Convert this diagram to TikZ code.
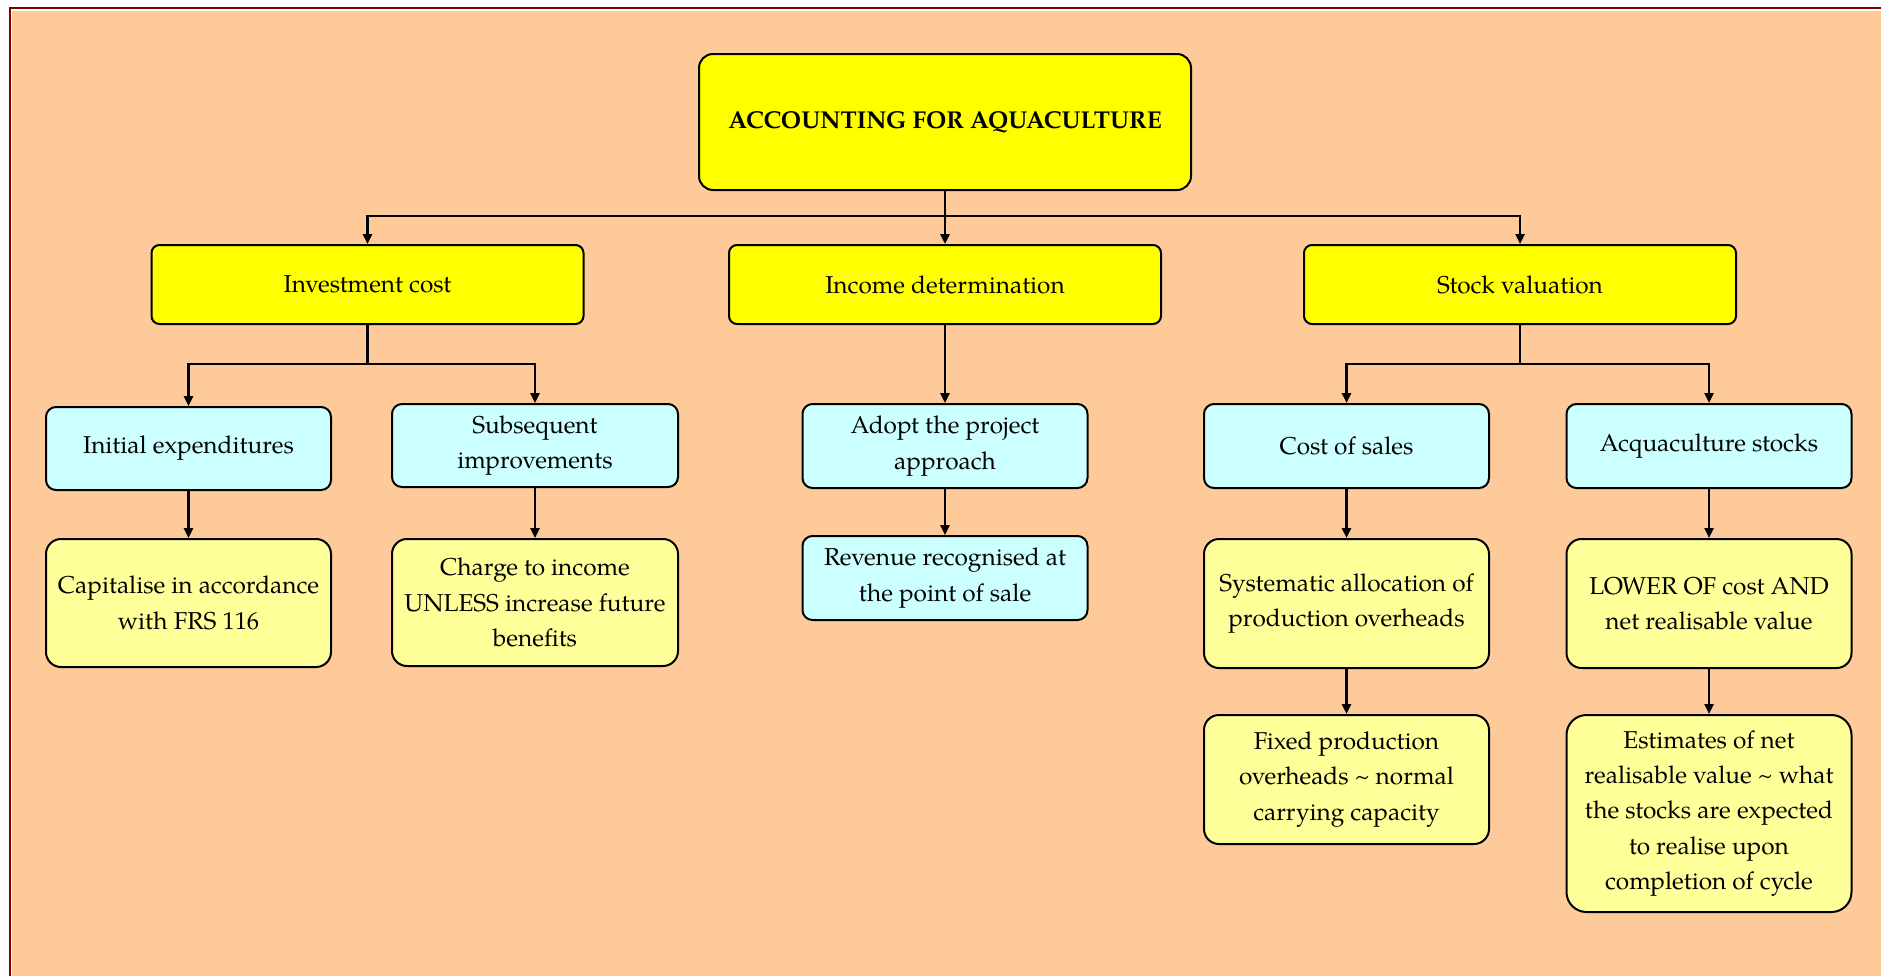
\documentclass[tikz,border=0pt]{standalone}
\usepackage{fontspec}
\setmainfont{TeX Gyre Pagella}
\usetikzlibrary{arrows.meta}
\definecolor{orangebg}{HTML}{FFCA99}
\definecolor{borderred}{HTML}{800000}
\definecolor{cyanl}{HTML}{CCFFFF}
\definecolor{lyellow}{HTML}{FFFF99}
\definecolor{yel}{HTML}{FFFF00}
\tikzset{
  box/.style={draw=black, line width=1pt, align=center, inner sep=0pt,
    font=\fontsize{12.2}{17.7}\selectfont},
  titlebox/.style={box, fill=yel, rounded corners=7pt, minimum width=246pt, minimum height=68pt,
    font=\fontsize{12.2}{17.7}\selectfont\bfseries},
  lvltwo/.style={box, fill=yel, rounded corners=4pt, minimum width=216pt, minimum height=39.5pt},
  cyanbox/.style={box, fill=cyanl, rounded corners=5pt, minimum width=142.5pt, minimum height=42pt},
  ybox/.style={box, fill=lyellow, rounded corners=7.5pt, minimum width=142.5pt, minimum height=64pt},
  conn/.style={line width=1.2pt, black},
  arr/.style={conn, -{Triangle[length=5pt,width=4.5pt]}},
}
\begin{document}
\begin{tikzpicture}[x=0.5pt, y=-0.5pt]
\useasboundingbox (0,0) rectangle (1881,976);
\fill[white] (0,0) rectangle (1881,976);
\fill[orangebg] (12,11) rectangle (1881,976);
\draw[borderred, line width=1.3pt] (10,976) -- (10,8) -- (1881,8);

\node[titlebox] (title) at (945,122) {ACCOUNTING FOR AQUACULTURE};

\node[lvltwo] (inv) at (367.5,284.5) {Investment cost};
\node[lvltwo] (inc) at (945,284.5) {Income determination};
\node[lvltwo] (stk) at (1520,284.5) {Stock valuation};

\node[cyanbox, minimum height=41.5pt] (init) at (188.5,448.5) {Initial expenditures};
\node[cyanbox, minimum width=143pt, minimum height=41.5pt] (subs) at (535,445.5) {Subsequent\\improvements};
\node[cyanbox] (adopt) at (945,446) {Adopt the project\\approach};
\node[cyanbox] (cos) at (1346.5,446) {Cost of sales};
\node[cyanbox] (acq) at (1709,446) {Acquaculture stocks};

\node[ybox] (cap) at (188.5,603) {Capitalise in accordance\\with FRS 116};
\node[ybox, minimum width=143pt, minimum height=63.5pt] (chg) at (535,602.5) {Charge to income\\UNLESS increase future\\benefits};
\node[cyanbox, rounded corners=5pt] (rev) at (945,578) {Revenue recognised at\\the point of sale};
\node[ybox, minimum height=64.5pt] (sys) at (1346.5,603.5) {Systematic allocation of\\production overheads};
\node[ybox, minimum height=64.5pt] (low) at (1709,603.5) {LOWER OF cost AND\\net realisable value};
\node[ybox, minimum height=64.5pt] (fix) at (1346.5,779.5) {Fixed production\\overheads \textasciitilde{} normal\\carrying capacity};
\node[ybox, minimum height=98.5pt, rounded corners=10pt] (est) at (1709,813.5) {Estimates of net\\realisable value \textasciitilde{} what\\the stocks are expected\\to realise upon\\completion of cycle};

% top level connectors
\coordinate (b0) at (945,216);
\draw[conn] (title.south) -- (b0);
\draw[arr] (b0) -| (inv.north);
\draw[arr] (b0) -| (stk.north);
\draw[arr] (b0) -- (inc.north);

% investment branch
\coordinate (b1) at (367.5,364);
\draw[conn] (inv.south) -- (b1);
\draw[arr] (b1) -| (init.north);
\draw[arr] (b1) -| (subs.north);

% stock branch
\coordinate (b2) at (1520,364);
\draw[conn] (stk.south) -- (b2);
\draw[arr] (b2) -| (cos.north);
\draw[arr] (b2) -| (acq.north);

% income branch
\draw[arr] (inc.south) -- (adopt.north);

% vertical arrows
\draw[arr] (init.south) -- (cap.north);
\draw[arr] (subs.south) -- (chg.north);
\draw[arr] (adopt.south) -- (rev.north);
\draw[arr] (cos.south) -- (sys.north);
\draw[arr] (acq.south) -- (low.north);
\draw[arr] (sys.south) -- (fix.north);
\draw[arr] (low.south) -- (est.north);
\end{tikzpicture}
\end{document}
